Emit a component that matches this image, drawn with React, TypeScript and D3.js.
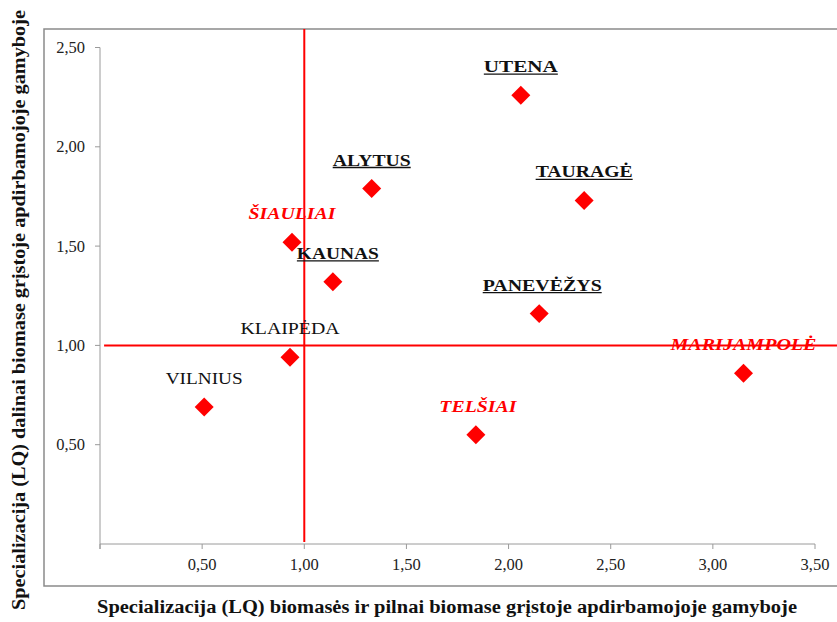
import React from "react";
import * as d3 from "d3";

const regions = ["UTENA", "TAURAGĖ", "PANEVĖŽYS", "ALYTUS", "KAUNAS", "ŠIAULIAI", "KLAIPĖDA", "VILNIUS", "TELŠIAI", "MARIJAMPOLĖ"];
const lqX = [2.06, 2.37, 2.15, 1.33, 1.14, 0.94, 0.93, 0.51, 1.84, 3.15];
const lqY = [2.26, 1.73, 1.16, 1.79, 1.32, 1.52, 0.94, 0.69, 0.55, 0.86];
const groups = ["lead", "lead", "lead", "lead", "lead", "warn", "plain", "plain", "warn", "warn"];
const xTicks = [0, 0.5, 1, 1.5, 2, 2.5, 3, 3.5];
const yTicks = [0.5, 1, 1.5, 2, 2.5];
const refX = 1;
const refY = 1;
const xTitle = "Specializacija (LQ) biomasės ir pilnai biomase grįstoje apdirbamojoje gamyboje";
const yTitle = "Specializacija (LQ) dalinai biomase grįstoje apdirbamojoje gamyboje";

// layout (not data)
const W = 837, H = 622;
const labelWidths: Record<string, number> = {
  UTENA: 74, "TAURAGĖ": 97, "PANEVĖŽYS": 119, ALYTUS: 78, KAUNAS: 82,
  "ŠIAULIAI": 87, "KLAIPĖDA": 99, VILNIUS: 77, "TELŠIAI": 77, "MARIJAMPOLĖ": 146,
};
const labelDx: Record<string, number> = { "PANEVĖŽYS": 3, KAUNAS: 5, "TELŠIAI": 2 };

const fmt = (v: number) => d3.format(".2f")(v).replace(".", ",");

export default function App() {
  const x = d3.scaleLinear().domain([0, 3.5]).range([100, 815]);
  const y = d3.scaleLinear().domain([0, 2.5]).range([544, 47.5]);
  const font = "'Liberation Serif', 'Times New Roman', serif";
  const diamond = d3.symbol().type(d3.symbolDiamond2).size(230)();
  const axisColor = "#9a9a9a";

  return (
    <svg width={W} height={H} style={{ position: "absolute", left: 0, top: 0, background: "#fff" }} fontFamily={font}>
      <rect x={0} y={0} width={W} height={H} fill="#fff" />
      {/* outer chart border */}
      <rect x={44} y={29} width={W} height={557} fill="none" stroke="#8a8a8a" strokeWidth={1.5} />

      {/* axes */}
      <line x1={x(0)} x2={x(0)} y1={y(2.5)} y2={y(0) + 5} stroke={axisColor} strokeWidth={1} />
      <line x1={x(0)} x2={x(3.5)} y1={y(0)} y2={y(0)} stroke={axisColor} strokeWidth={1} />
      {xTicks.map((t) => (
        <g key={"xt" + t}>
          <line x1={x(t)} x2={x(t)} y1={y(0)} y2={y(0) + 5} stroke={axisColor} />
          {t > 0 && (
            <text x={x(t)} y={y(0) + 26} textAnchor="middle" fontSize={16.5} fill="#222">
              {fmt(t)}
            </text>
          )}
        </g>
      ))}
      {yTicks.map((t) => (
        <g key={"yt" + t}>
          <line x1={x(0) - 5} x2={x(0)} y1={y(t)} y2={y(t)} stroke={axisColor} />
          <text x={x(0) - 15} y={y(t) + 5.5} textAnchor="end" fontSize={16.5} fill="#222">
            {fmt(t)}
          </text>
        </g>
      ))}

      {/* reference lines */}
      <line x1={x(refX)} x2={x(refX)} y1={29} y2={y(0.01)} stroke="#ff0000" strokeWidth={2} />
      <line x1={x(0.02)} x2={W} y1={y(refY)} y2={y(refY)} stroke="#ff0000" strokeWidth={2} />

      {/* points */}
      {regions.map((r, i) => (
        <path key={"p" + r} d={diamond || ""} transform={`translate(${x(lqX[i])},${y(lqY[i])})`} fill="#ff0000" />
      ))}

      {/* labels */}
      {regions.map((r, i) => {
        const g = groups[i];
        const lx = x(lqX[i]) + (labelDx[r] || 0);
        const ly = y(lqY[i]) - 23;
        const w = labelWidths[r];
        return (
          <g key={"l" + r}>
            <text
              x={lx}
              y={ly}
              textAnchor="middle"
              fontSize={17.5}
              fontWeight={g === "plain" ? "normal" : "bold"}
              fontStyle={g === "warn" ? "italic" : "normal"}
              fill={g === "warn" ? "#ff0000" : "#111"}
              textLength={w}
              lengthAdjust="spacingAndGlyphs"
            >
              {r}
            </text>
            {g === "lead" && (
              <line x1={lx - w / 2} x2={lx + w / 2} y1={ly + 2} y2={ly + 2} stroke="#111" strokeWidth={1.3} />
            )}
          </g>
        );
      })}

      {/* axis titles */}
      <text x={447} y={613} textAnchor="middle" fontSize={18} fontWeight="bold" fill="#111" textLength={700} lengthAdjust="spacingAndGlyphs">
        {xTitle}
      </text>
      <text
        transform={`translate(25,310) rotate(-90)`}
        textAnchor="middle"
        fontSize={18}
        fontWeight="bold"
        fill="#111"
        textLength={600}
        lengthAdjust="spacingAndGlyphs"
      >
        {yTitle}
      </text>
    </svg>
  );
}
